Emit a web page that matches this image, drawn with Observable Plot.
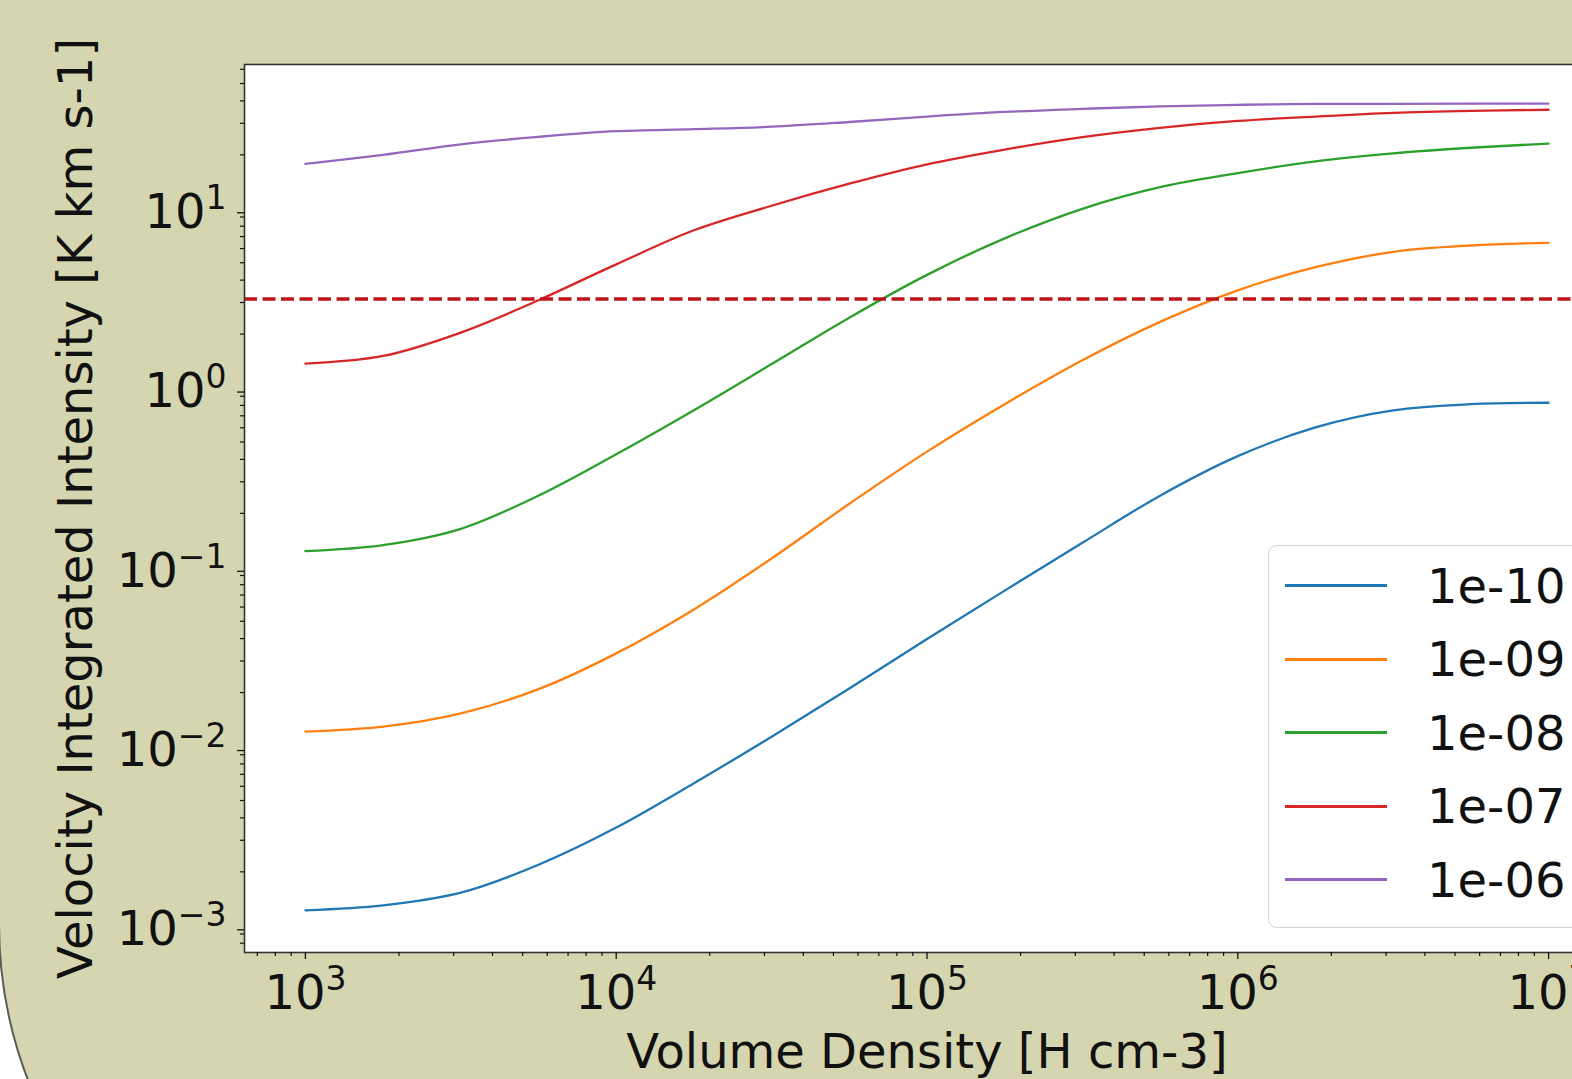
<!DOCTYPE html>
<html><head><meta charset="utf-8">
<script src="https://cdn.jsdelivr.net/npm/d3@7"></script>
<script src="https://cdn.jsdelivr.net/npm/@observablehq/plot@0.6"></script>
<style>
html,body{margin:0;padding:0;width:1572px;height:1079px;overflow:hidden;background:#fff;font-family:"DejaVu Sans",sans-serif;}
#bg{position:absolute;left:-2px;top:-2px;width:3000px;height:1358px;background:#d5d5b0;border:2px solid #5a5a5a;border-bottom-left-radius:436px;}
#chart{position:absolute;left:0;top:0;width:1700px;}
#chart svg{max-width:none !important;}
#legend{position:absolute;left:1268px;top:545px;width:400px;height:383px;box-sizing:border-box;border:1.5px solid #d2d2d2;border-radius:9px;background:rgba(255,255,255,0.85);padding-top:3px;}
.row{height:73.5px;display:flex;align-items:center;}
.sw{width:102px;height:2.6px;margin-left:16px;}
.lab{margin-left:40px;font-size:48px;color:#111;line-height:1;}
</style></head><body>
<div id="bg"></div><div id="chart"></div><div id="legend"></div>
<script>
// Volume density [H cm-3]
const density = [1000, 1778, 3162, 5623, 10000, 17783, 31623, 56234, 100000, 177828, 316228, 562341, 1000000, 1778279, 3162278, 5623413, 10000000];
// series (abundance) names and colours
const seriesNames = ["1e-10", "1e-09", "1e-08", "1e-07", "1e-06"];
const seriesColors = ["#1f77b4", "#ff7f0e", "#2ca02c", "#d62728", "#9467bd"];
// velocity integrated intensity [K km s-1]
const int_1e10 = [0.00122, 0.00130, 0.00153, 0.00219, 0.00353, 0.00624, 0.01135, 0.0211, 0.0398, 0.0741, 0.137, 0.251, 0.417, 0.603, 0.750, 0.813, 0.828];
const int_1e09 = [0.0121, 0.0129, 0.0153, 0.0209, 0.0331, 0.0582, 0.112, 0.226, 0.442, 0.813, 1.43, 2.34, 3.51, 4.72, 5.75, 6.24, 6.46];
const int_1e08 = [0.123, 0.133, 0.164, 0.251, 0.427, 0.752, 1.36, 2.47, 4.28, 6.84, 10.0, 13.2, 15.8, 18.4, 20.4, 21.9, 23.1];
const int_1e07 = [1.37, 1.51, 2.04, 3.09, 4.90, 7.59, 10.4, 13.8, 17.7, 21.4, 25.1, 28.3, 30.9, 32.7, 34.3, 35.2, 35.7];
const int_1e06 = [17.8, 20.0, 22.9, 25.2, 27.1, 27.8, 28.7, 30.5, 32.7, 34.7, 36.1, 37.3, 38.0, 38.5, 38.5, 38.6, 38.6];
// detection threshold (dashed line)
const threshold = [3.14];
// tick labels
const xTicks = [1e3, 1e4, 1e5, 1e6, 1e7];
const xTickLabels = ["10^3", "10^4", "10^5", "10^6", "10^7"];
const yTicks = [1e-3, 1e-2, 1e-1, 1, 10];
const yTickLabels = ["10^\u22123", "10^\u22122", "10^\u22121", "10^0", "10^1"];

const allSeries = [int_1e10, int_1e09, int_1e08, int_1e07, int_1e06];
const rows = [];
seriesNames.forEach((s, i) => density.forEach((d, j) => rows.push({series: s, density: d, value: allSeries[i][j]})));

const xDomain = [10 ** 2.804, 10 ** 7.196];
const yDomain = [10 ** -3.149, 10 ** 1.805];
function minorTicks([lo, hi]) {
  const out = [];
  for (let e = Math.floor(Math.log10(lo)); e <= Math.ceil(Math.log10(hi)); e++)
    for (let m = 2; m <= 9; m++) { const v = m * 10 ** e; if (v >= lo && v <= hi) out.push(v); }
  return out;
}

const W = 1700, H = 1079;
const font = '"DejaVu Sans", sans-serif';
const chart = Plot.plot({
  width: W, height: H,
  marginLeft: 244, marginRight: W - 1609, marginTop: 64, marginBottom: H - 952,
  style: {background: "transparent", fontFamily: font, fontSize: "48px", color: "#111", overflow: "visible", maxWidth: "none"},
  x: {type: "log", domain: xDomain},
  y: {type: "log", domain: yDomain},
  color: {domain: seriesNames, range: seriesColors},
  marks: [
    Plot.frame({fill: "white", stroke: null}),
    Plot.line(rows, {x: "density", y: "value", z: "series", stroke: "series", strokeWidth: 2.3, curve: "catmull-rom"}),
    Plot.ruleY(threshold, {stroke: "#c0141c", strokeWidth: 3.6, strokeDasharray: "13,5.5"}),
    Plot.frame({stroke: "#333", strokeWidth: 1.6}),
    Plot.axisX({ticks: minorTicks(xDomain), tickSize: 4, tickFormat: () => "", label: null, strokeWidth: 1.2}),
    Plot.axisX({ticks: xTicks, tickSize: 7, tickPadding: 15, strokeWidth: 1.3, fontSize: 48,
      tickFormat: d => xTickLabels[xTicks.indexOf(d)],
      label: "Volume Density [H cm-3]", labelAnchor: "center", labelArrow: "none", labelOffset: 115}),
    Plot.axisY({ticks: minorTicks(yDomain), tickSize: 4, tickFormat: () => "", label: null, strokeWidth: 1.2}),
    Plot.axisY({ticks: yTicks, tickSize: 7, tickPadding: 11, strokeWidth: 1.3, fontSize: 48, dy: 4,
      tickFormat: d => yTickLabels[yTicks.indexOf(d)],
      label: "Velocity Integrated Intensity [K km s-1]", labelAnchor: "center", labelArrow: "none", labelOffset: 187})
  ]
});
chart.style.maxWidth = "none";
document.getElementById("chart").appendChild(chart);

// render "10^n" tick labels with real superscripts; drop any axis arrows
const NS = "http://www.w3.org/2000/svg";
chart.querySelectorAll("text").forEach(t => {
  if (/[\u2192\u2191]/.test(t.textContent)) t.textContent = t.textContent.replace(/\s*[\u2192\u2191]\s*/g, "");
  const m = /^10\^(.+)$/.exec(t.textContent);
  if (!m) return;
  t.textContent = "10";
  const sup = document.createElementNS(NS, "tspan");
  sup.setAttribute("dy", "-19");
  sup.setAttribute("font-size", "33");
  sup.textContent = m[1];
  t.appendChild(sup);
});

// legend
const legend = document.getElementById("legend");
seriesNames.forEach((s, i) => {
  const row = document.createElement("div"); row.className = "row";
  const sw = document.createElement("div"); sw.className = "sw"; sw.style.background = seriesColors[i];
  const lab = document.createElement("div"); lab.className = "lab"; lab.textContent = s;
  row.appendChild(sw); row.appendChild(lab); legend.appendChild(row);
});
</script>
</body></html>
